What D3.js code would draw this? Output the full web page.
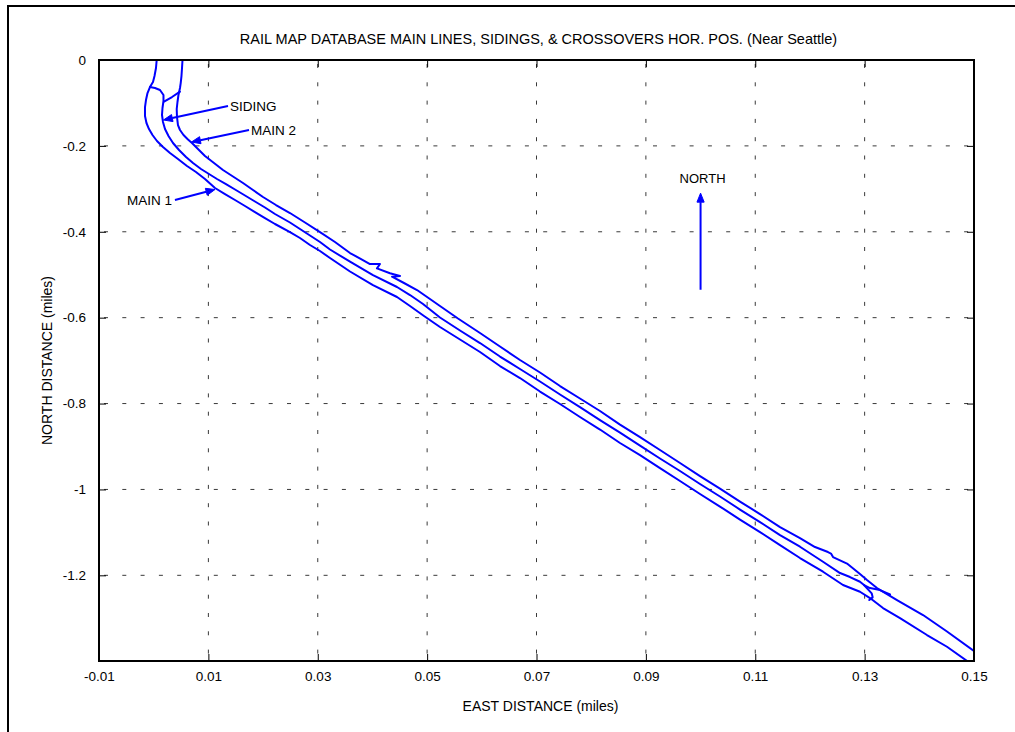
<!DOCTYPE html>
<html>
<head>
<meta charset="utf-8">
<script src="https://cdn.jsdelivr.net/npm/d3@7"></script>
<style>
  html, body { margin: 0; padding: 0; background: #fff; }
  svg { display: block; font-family: "Liberation Sans", Arial, Helvetica, sans-serif; }
</style>
</head>
<body>
<svg id="fig" width="1015" height="732"></svg>
<script>
// ---- Track geometry: east / north offsets in miles ----
const main1East = [0.00055, 0.00042, 0.00015, -0.00013, -0.00068, -0.00113, -0.00141, -0.00159, -0.00159, -0.00132,
  -0.00086, -0.00022, 0.00060, 0.00170, 0.00298, 0.00444, 0.00609, 0.00773, 0.00938, 0.01121,
  0.01304, 0.01487, 0.01670, 0.01852, 0.02035, 0.02218, 0.02492, 0.02675, 0.02858, 0.03041,
  0.03224, 0.03590, 0.04010, 0.04449, 0.04687, 0.04943, 0.05235, 0.05601, 0.05967, 0.06332,
  0.06698, 0.07064, 0.07430, 0.07795, 0.08161, 0.08527, 0.08893, 0.09258, 0.09624, 0.09990,
  0.10355, 0.10721, 0.11087, 0.11453, 0.11818, 0.12239, 0.12605, 0.12915, 0.13098, 0.13336,
  0.13647, 0.14140, 0.14506, 0.14927];
const main1North = [0, -0.0186, -0.0373, -0.0512, -0.0629, -0.0769, -0.0932, -0.1095, -0.1304, -0.1467,
  -0.1607, -0.1747, -0.1886, -0.2026, -0.2166, -0.2305, -0.2469, -0.2608, -0.2771, -0.2981,
  -0.3121, -0.3260, -0.3400, -0.3540, -0.3680, -0.3819, -0.4006, -0.4145, -0.4308, -0.4448,
  -0.4611, -0.4925, -0.5240, -0.5519, -0.5729, -0.5962, -0.6218, -0.6509, -0.6800, -0.7126,
  -0.7406, -0.7720, -0.8011, -0.8314, -0.8605, -0.8919, -0.9199, -0.9502, -0.9804, -1.0107,
  -1.0398, -1.0701, -1.0992, -1.1295, -1.1597, -1.1916, -1.2226, -1.2382, -1.2529, -1.2762,
  -1.2995, -1.3390, -1.3663, -1.4043];

const main2East = [0.00527, 0.00518, 0.00508, 0.00494, 0.00481, 0.00453, 0.00435, 0.00421, 0.00426, 0.00444,
  0.00481, 0.00545, 0.00627, 0.00700, 0.00810, 0.00938, 0.01103, 0.01267, 0.01450, 0.01633,
  0.01816, 0.01999, 0.02236, 0.02492, 0.02767, 0.03041, 0.03315, 0.03590, 0.03809, 0.03955,
  0.04138, 0.04083, 0.04321, 0.04504, 0.04358, 0.04577, 0.04815, 0.05052, 0.05235, 0.05564,
  0.05967, 0.06332, 0.06698, 0.07064, 0.07430, 0.07795, 0.08161, 0.08527, 0.08893, 0.09258,
  0.09624, 0.09990, 0.10355, 0.10721, 0.11087, 0.11453, 0.11818, 0.12093, 0.12330, 0.12385,
  0.12422, 0.12678, 0.12915, 0.13043, 0.13226, 0.13592, 0.14068, 0.14506, 0.15037];
const main2North = [0, -0.0186, -0.0373, -0.0536, -0.0652, -0.0815, -0.0978, -0.1141, -0.1327, -0.1514,
  -0.1630, -0.1747, -0.1851, -0.1933, -0.2073, -0.2236, -0.2399, -0.2562, -0.2713, -0.2864,
  -0.3027, -0.3190, -0.3377, -0.3563, -0.3784, -0.4006, -0.4238, -0.4495, -0.4646, -0.4751,
  -0.4751, -0.4851, -0.4967, -0.5030, -0.5047, -0.5193, -0.5356, -0.5566, -0.5729, -0.6020,
  -0.6358, -0.6672, -0.6986, -0.7277, -0.7592, -0.7883, -0.8174, -0.8489, -0.8780, -0.9082,
  -0.9385, -0.9688, -0.9979, -1.0282, -1.0573, -1.0876, -1.1132, -1.1341, -1.1458, -1.1493,
  -1.1574, -1.1726, -1.1970, -1.2110, -1.2296, -1.2576, -1.2925, -1.3309, -1.3798];

const sidingEast = [-0.00068, 0.00024, 0.00115, 0.00179, 0.00179, 0.00161, 0.00152, 0.00170, 0.00207, 0.00271,
  0.00353, 0.00463, 0.00591, 0.00719, 0.00865, 0.01011, 0.01158, 0.01322, 0.01487, 0.01670,
  0.01852, 0.02035, 0.02218, 0.02492, 0.02675, 0.02858, 0.03041, 0.03224, 0.03590, 0.04010,
  0.04449, 0.04687, 0.04925, 0.05235, 0.05601, 0.05967, 0.06332, 0.06698, 0.07064, 0.07430,
  0.07795, 0.08161, 0.08527, 0.08893, 0.09258, 0.09624, 0.09990, 0.10355, 0.10721, 0.11087,
  0.11453, 0.11818, 0.12239, 0.12550, 0.12733, 0.12915, 0.12989, 0.13098, 0.13281, 0.13464];
const sidingNorth = [-0.0629, -0.0652, -0.0699, -0.0815, -0.0955, -0.1118, -0.1281, -0.1444, -0.1607, -0.1770,
  -0.1933, -0.2096, -0.2259, -0.2399, -0.2538, -0.2655, -0.2771, -0.2888, -0.3016, -0.3155,
  -0.3295, -0.3435, -0.3586, -0.3784, -0.3936, -0.4087, -0.4238, -0.4413, -0.4697, -0.5007,
  -0.5286, -0.5473, -0.5682, -0.5997, -0.6299, -0.6591, -0.6905, -0.7196, -0.7487, -0.7790,
  -0.8081, -0.8384, -0.8675, -0.8978, -0.9280, -0.9571, -0.9874, -1.0165, -1.0468, -1.0759,
  -1.1062, -1.1334, -1.1684, -1.1947, -1.2040, -1.2149, -1.2226, -1.2296, -1.2343, -1.2447];

// Crossovers: Main 2 -> siding (north end), siding -> Main 1 (south end)
const crossNorthEast = [0.00481, 0.00335, 0.00197];
const crossNorthNorth = [-0.0738, -0.0862, -0.0966];
const crossSouthEast = [0.12989, 0.13129, 0.13147, 0.13085];
const crossSouthNorth = [-1.2226, -1.2419, -1.2513, -1.2576];

// ---- Axes ----
const xTicks = [-0.01, 0.01, 0.03, 0.05, 0.07, 0.09, 0.11, 0.13, 0.15];
const xTickLabels = ["-0.01", "0.01", "0.03", "0.05", "0.07", "0.09", "0.11", "0.13", "0.15"];
const yTicks = [0, -0.2, -0.4, -0.6, -0.8, -1, -1.2];
const yTickLabels = ["0", "-0.2", "-0.4", "-0.6", "-0.8", "-1", "-1.2"];
const xDomain = [-0.01, 0.15];
const yDomain = [-1.3995, 0];

// ---- Callouts ----
const calloutText = ["SIDING", "MAIN 2", "MAIN 1"];
const calloutFromEast = [0.01359, 0.01743, 0.00389];
const calloutFromNorth = [-0.1071, -0.1630, -0.3260];
const calloutToEast = [0.00179, 0.00691, 0.01121];
const calloutToNorth = [-0.1397, -0.1910, -0.3016];

const northArrowEast = 0.1;
const northArrowNorth = [-0.535, -0.310];
const northLabel = "NORTH";

const titleText = "RAIL MAP DATABASE MAIN LINES, SIDINGS, & CROSSOVERS HOR. POS. (Near Seattle)";
const xLabelText = "EAST DISTANCE (miles)";
const yLabelText = "NORTH DISTANCE (miles)";

// ---- Drawing ----
const svg = d3.select("#fig");
const plot = { left: 99, top: 60, right: 974, bottom: 661 };
const x = d3.scaleLinear().domain(xDomain).range([plot.left, plot.right]);
const y = d3.scaleLinear().domain(yDomain).range([plot.bottom, plot.top]);
const blue = "#0000ff";

svg.append("rect").attr("width", 1015).attr("height", 732).attr("fill", "#fff");

// figure frame (left and top edges visible)
svg.append("path")
  .attr("d", "M8,740 L8,6 L1030,6")
  .attr("fill", "none").attr("stroke", "#000").attr("stroke-width", 2);

svg.append("defs").append("clipPath").attr("id", "plotClip")
  .append("rect")
  .attr("x", plot.left).attr("y", plot.top)
  .attr("width", plot.right - plot.left).attr("height", plot.bottom - plot.top);

// grid
const grid = svg.append("g").attr("stroke", "#3a3a3a").attr("stroke-width", 1)
  .attr("stroke-dasharray", "4,14.3").attr("fill", "none");
xTicks.forEach(t => {
  grid.append("line").attr("x1", x(t)).attr("x2", x(t))
    .attr("y1", plot.top).attr("y2", plot.bottom)
    .attr("stroke-dashoffset", -4);
});
yTicks.forEach(t => {
  grid.append("line").attr("x1", plot.left).attr("x2", plot.right)
    .attr("y1", y(t)).attr("y2", y(t))
    .attr("stroke-dashoffset", -5);
});

// axes with inward ticks on all four sides
const tickFont = "13.5px";
const xAxisBottom = d3.axisBottom(x).tickValues(xTicks).tickFormat((d, i) => xTickLabels[i])
  .tickSizeInner(-7).tickSizeOuter(0).tickPadding(10);
const xAxisTop = d3.axisTop(x).tickValues(xTicks).tickFormat("").tickSizeInner(-7).tickSizeOuter(0);
const yAxisLeft = d3.axisLeft(y).tickValues(yTicks).tickFormat((d, i) => yTickLabels[i])
  .tickSizeInner(-7).tickSizeOuter(0).tickPadding(13);
const yAxisRight = d3.axisRight(y).tickValues(yTicks).tickFormat("").tickSizeInner(-7).tickSizeOuter(0);

function styleAxis(g) {
  g.select(".domain").remove();
  g.selectAll(".tick line").attr("stroke", "#000").attr("stroke-width", 1);
  g.selectAll(".tick text").attr("fill", "#000").style("font-size", tickFont)
    .style("font-family", '"Liberation Sans", Arial, sans-serif');
}
svg.append("g").attr("transform", `translate(0,${plot.bottom})`).call(xAxisBottom).call(styleAxis);
svg.append("g").attr("transform", `translate(0,${plot.top})`).call(xAxisTop).call(styleAxis);
svg.append("g").attr("transform", `translate(${plot.left},0)`).call(yAxisLeft).call(styleAxis);
svg.append("g").attr("transform", `translate(${plot.right},0)`).call(yAxisRight).call(styleAxis);

// tracks
const lineGen = d3.line().x(d => x(d[0])).y(d => y(d[1]));
const tracks = [
  d3.zip(main1East, main1North),
  d3.zip(main2East, main2North),
  d3.zip(sidingEast, sidingNorth),
  d3.zip(crossNorthEast, crossNorthNorth),
  d3.zip(crossSouthEast, crossSouthNorth)
];
const trackG = svg.append("g").attr("clip-path", "url(#plotClip)");
trackG.selectAll("path.track").data(tracks).join("path")
  .attr("class", "track")
  .attr("d", lineGen)
  .attr("fill", "none").attr("stroke", blue).attr("stroke-width", 2)
  .attr("stroke-linejoin", "round").attr("stroke-linecap", "round");

// plot box
svg.append("rect")
  .attr("x", plot.left).attr("y", plot.top)
  .attr("width", plot.right - plot.left).attr("height", plot.bottom - plot.top)
  .attr("fill", "none").attr("stroke", "#000").attr("stroke-width", 2);

// arrows
function arrow(g, x0, y0, x1, y1) {
  const dx = x1 - x0, dy = y1 - y0, len = Math.hypot(dx, dy);
  const ux = dx / len, uy = dy / len;
  const headL = 9, headW = 3.6;
  const bx = x1 - ux * headL, by = y1 - uy * headL;
  g.append("line").attr("x1", x0).attr("y1", y0).attr("x2", bx).attr("y2", by)
    .attr("stroke", blue).attr("stroke-width", 2);
  g.append("path")
    .attr("d", `M${x1},${y1} L${bx - uy * headW},${by + ux * headW} L${bx + uy * headW},${by - ux * headW} Z`)
    .attr("fill", blue).attr("stroke", blue).attr("stroke-width", 1);
}

const ann = svg.append("g");
calloutText.forEach((label, i) => {
  const fx = x(calloutFromEast[i]), fy = y(calloutFromNorth[i]);
  const tx = x(calloutToEast[i]), ty = y(calloutToNorth[i]);
  arrow(ann, fx, fy, tx, ty);
  const pointsLeft = tx < fx;
  ann.append("text")
    .attr("x", pointsLeft ? fx + 2 : fx - 3)
    .attr("y", fy)
    .attr("dy", "0.35em")
    .attr("text-anchor", pointsLeft ? "start" : "end")
    .style("font-size", "13.5px")
    .text(label);
});

arrow(ann, x(northArrowEast), y(northArrowNorth[0]), x(northArrowEast), y(northArrowNorth[1]));
ann.append("text")
  .attr("x", x(northArrowEast) + 2).attr("y", y(northArrowNorth[1]) - 10)
  .attr("text-anchor", "middle")
  .style("font-size", "13px")
  .text(northLabel);

// titles
svg.append("text").attr("x", (plot.left + plot.right) / 2 + 2).attr("y", 44)
  .attr("text-anchor", "middle").style("font-size", "14.5px").text(titleText);
svg.append("text").attr("x", (plot.left + plot.right) / 2 + 4).attr("y", 711)
  .attr("text-anchor", "middle").style("font-size", "14px").text(xLabelText);
svg.append("text").attr("transform", `translate(52,${(plot.top + plot.bottom) / 2}) rotate(-90)`)
  .attr("text-anchor", "middle").style("font-size", "14px").text(yLabelText);
</script>
</body>
</html>
